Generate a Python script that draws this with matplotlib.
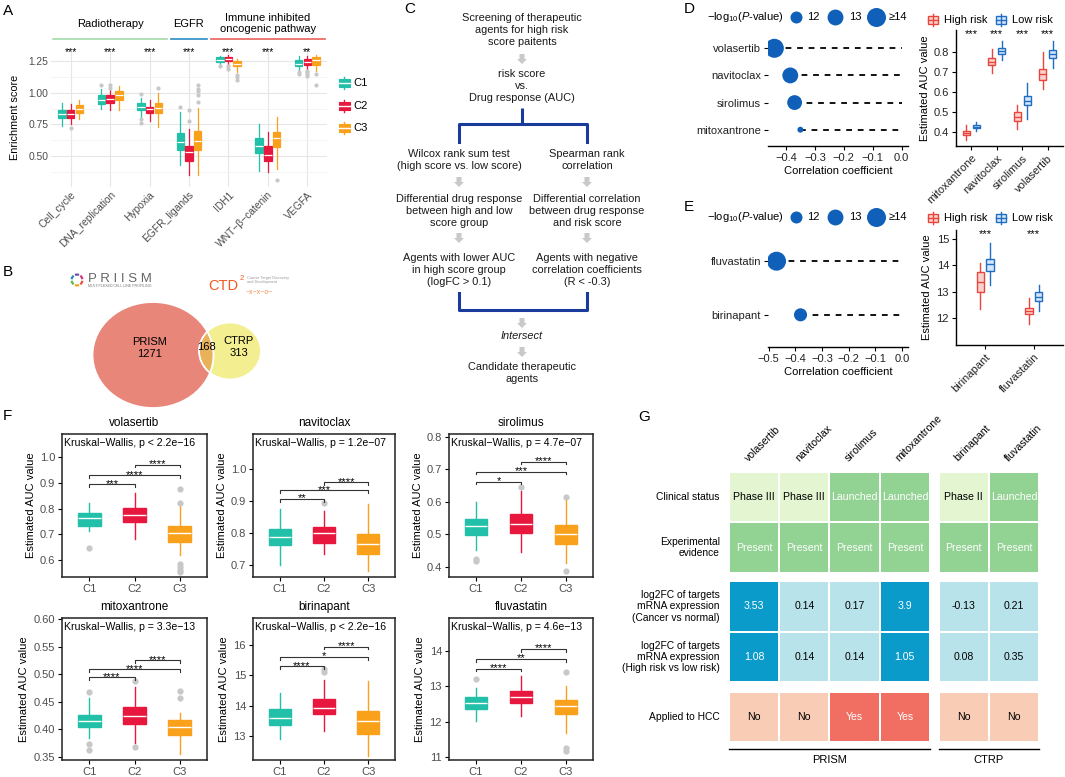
import numpy as np
import matplotlib
matplotlib.use('Agg')
import matplotlib.pyplot as plt
from matplotlib.patches import Rectangle, Ellipse, Polygon, Wedge
from matplotlib.ticker import FormatStrFormatter

plt.rcParams['font.family'] = ['Liberation Sans', 'DejaVu Sans']
plt.rcParams['mathtext.fontset'] = 'custom'
plt.rcParams['mathtext.rm'] = 'Liberation Sans'
plt.rcParams['mathtext.it'] = 'Liberation Sans:italic'

# ---------------------------------------------------------------- data
# A: enrichment score boxes, [whislo, q1, med, q3, whishi] per pathway
pathways = ['Cell_cycle', 'DNA_replication', 'Hypoxia', 'EGFR_ligands',
            'IDH1', 'WNT\u2212\u03b2\u2212catenin', 'VEGFA']
pathway_sig = ['***', '***', '***', '***', '***', '***', '**']
a_c1 = [[0.74, 0.80, 0.83, 0.86, 0.92], [0.87, 0.91, 0.94, 0.98, 1.03],
        [0.80, 0.86, 0.89, 0.92, 0.96], [0.43, 0.55, 0.61, 0.68, 0.85],
        [1.22, 1.24, 1.26, 1.28, 1.29], [0.38, 0.52, 0.58, 0.64, 0.75],
        [1.18, 1.21, 1.23, 1.26, 1.29]]
a_c2 = [[0.75, 0.80, 0.83, 0.86, 0.91], [0.86, 0.92, 0.95, 0.98, 1.02],
        [0.78, 0.84, 0.87, 0.89, 0.94], [0.35, 0.46, 0.53, 0.58, 0.71],
        [1.22, 1.25, 1.27, 1.28, 1.30], [0.37, 0.46, 0.51, 0.58, 0.69],
        [1.17, 1.22, 1.24, 1.27, 1.29]]
a_c3 = [[0.79, 0.84, 0.87, 0.90, 0.94], [0.86, 0.94, 0.98, 1.01, 1.05],
        [0.73, 0.84, 0.88, 0.92, 1.00], [0.35, 0.55, 0.62, 0.70, 0.88],
        [1.16, 1.21, 1.23, 1.25, 1.27], [0.40, 0.57, 0.64, 0.69, 0.81],
        [1.17, 1.22, 1.26, 1.28, 1.30]]
a_c1_out = [[], [1.06], [0.76, 0.79, 0.99], [0.89], [1.21], [], [1.15, 1.16]]
a_c2_out = [[0.72], [1.04, 1.06], [], [0.78, 0.86], [1.19, 1.21], [], [1.13, 1.15, 1.16, 1.17]]
a_c3_out = [[], [], [1.04], [0.93, 0.98, 1.01, 1.03, 1.06], [1.10, 1.12, 1.14], [0.31], [1.06, 1.15]]
a_groups = ['Radiotherapy', 'EGFR', 'Immune inhibited\noncogenic pathway']
a_group_first = [0, 3, 4]
a_group_last = [2, 3, 6]
clusters = ['C1', 'C2', 'C3']

# B: venn counts
venn_prism, venn_both, venn_ctrp = 1271, 168, 313

# D / E: correlation dot plots and risk boxplots
d_drugs = ['volasertib', 'navitoclax', 'sirolimus', 'mitoxantrone']
d_corr = [-0.44, -0.385, -0.37, -0.35]
d_logp = [14.0, 13.0, 12.7, 11.0]
d_box_drugs = ['mitoxantrone', 'navitoclax', 'sirolimus', 'volasertib']
d_high = [[0.36, 0.385, 0.395, 0.405, 0.435], [0.695, 0.735, 0.752, 0.77, 0.815],
          [0.415, 0.455, 0.475, 0.50, 0.535], [0.615, 0.66, 0.69, 0.715, 0.80]]
d_low = [[0.405, 0.418, 0.425, 0.435, 0.45], [0.76, 0.79, 0.805, 0.82, 0.855],
         [0.465, 0.535, 0.555, 0.58, 0.645], [0.72, 0.77, 0.79, 0.81, 0.855]]

e_drugs = ['fluvastatin', 'birinapant']
e_corr = [-0.47, -0.38]
e_logp = [14.0, 12.25]
e_box_drugs = ['birinapant', 'fluvastatin']
e_high = [[12.35, 13.0, 13.35, 13.75, 14.1], [11.75, 12.15, 12.27, 12.38, 12.75]]
e_low = [[13.25, 13.8, 14.05, 14.25, 14.85], [12.25, 12.65, 12.8, 12.97, 13.25]]

# F: per drug boxes for C1, C2, C3 ([whislo, q1, med, q3, whishi])
f_vol_box = [[0.713, 0.732, 0.762, 0.784, 0.823], [0.68, 0.749, 0.775, 0.801, 0.862],
             [0.62, 0.669, 0.704, 0.732, 0.814]]
f_vol_out = [[0.645], [], [0.877, 0.82, 0.586, 0.573, 0.563, 0.553]]
f_vol_brk = [0.894, 0.93, 0.97]
f_vol_sig = ['***', '****', '****']

f_nav_box = [[0.70, 0.763, 0.787, 0.811, 0.875], [0.733, 0.769, 0.801, 0.819, 0.87],
             [0.68, 0.733, 0.765, 0.798, 0.891]]
f_nav_out = [[], [0.893], []]
f_nav_brk = [0.906, 0.933, 0.958]
f_nav_sig = ['**', '***', '****']

f_sir_box = [[0.453, 0.497, 0.526, 0.547, 0.60], [0.446, 0.505, 0.531, 0.564, 0.634],
             [0.413, 0.472, 0.50, 0.53, 0.605]]
f_sir_out = [[0.425, 0.417], [0.647], [0.614, 0.388]]
f_sir_brk = [0.662, 0.693, 0.724]
f_sir_sig = ['*', '***', '****']

f_mit_box = [[0.384, 0.404, 0.416, 0.426, 0.456], [0.375, 0.41, 0.425, 0.44, 0.477],
             [0.356, 0.389, 0.404, 0.417, 0.43]]
f_mit_out = [[0.467, 0.374, 0.363], [0.487, 0.368], [0.469, 0.456]]
f_mit_brk = [0.494, 0.509, 0.525]
f_mit_sig = ['****', '****', '****']

f_bir_box = [[12.9, 13.35, 13.6, 13.9, 14.42], [13.15, 13.72, 13.93, 14.22, 14.85],
             [12.35, 13.08, 13.5, 13.82, 14.82]]
f_bir_out = [[], [15.1, 15.2], []]
f_bir_brk = [15.3, 15.6, 15.95]
f_bir_sig = ['****', '*', '****']

f_flu_box = [[12.03, 12.35, 12.54, 12.69, 12.95], [12.16, 12.54, 12.71, 12.88, 13.28],
             [11.67, 12.21, 12.44, 12.6, 13.02]]
f_flu_out = [[13.2], [], [13.39, 11.25, 11.16]]
f_flu_brk = [13.5, 13.77, 14.05]
f_flu_sig = ['****', '**', '****']

f_drugs = ['volasertib', 'navitoclax', 'sirolimus', 'mitoxantrone', 'birinapant', 'fluvastatin']
f_pvals = ['p < 2.2e\u221216', 'p = 1.2e\u221207', 'p = 4.7e\u221207',
           'p = 3.3e\u221213', 'p < 2.2e\u221216', 'p = 4.6e\u221213']

# G: summary table
g_drugs = ['volasertib', 'navitoclax', 'sirolimus', 'mitoxantrone', 'birinapant', 'fluvastatin']
g_clinical = ['Phase III', 'Phase III', 'Launched', 'Launched', 'Phase II', 'Launched']
g_evidence = ['Present', 'Present', 'Present', 'Present', 'Present', 'Present']
g_fc_cancer = [3.53, 0.14, 0.17, 3.9, -0.13, 0.21]
g_fc_risk = [1.08, 0.14, 0.14, 1.05, 0.08, 0.35]
g_hcc = ['No', 'No', 'Yes', 'Yes', 'No', 'No']
g_rows = ['Clinical status', 'Experimental\nevidence',
          'log2FC of targets\nmRNA expression\n(Cancer vs normal)',
          'log2FC of targets\nmRNA expression\n(High risk vs low risk)',
          'Applied to HCC']

# ---------------------------------------------------------------- styles
clust_colors = ['#22BFA9', '#E8173E', '#F9A11B']
risk_red, risk_blue = '#E8453C', '#1F6EC4'
dot_blue = '#1060BA'
flier_grey = '#C8C8C8'

W, H = 1065, 777
fig = plt.figure(figsize=(W / 100, H / 100), dpi=100)


def px_axes(x0, y0, x1, y1):
    return fig.add_axes([x0 / W, 1 - y1 / H, (x1 - x0) / W, (y1 - y0) / H])


def draw_boxes(ax, stats5, fliers, positions, color, width, median_color='white',
               face=None, lw=1.0, ms=3.5):
    stats = []
    for s, f in zip(stats5, fliers):
        stats.append(dict(whislo=s[0], q1=s[1], med=s[2], q3=s[3], whishi=s[4], fliers=f))
    ax.bxp(stats, positions=positions, widths=width, patch_artist=True, showcaps=False,
           manage_ticks=False,
           boxprops=dict(facecolor=face or color, edgecolor=color, linewidth=lw),
           medianprops=dict(color=median_color, linewidth=lw),
           whiskerprops=dict(color=color, linewidth=lw),
           flierprops=dict(marker='o', markerfacecolor=flier_grey,
                           markeredgecolor='none', markersize=ms))


def size_pts(v):
    v = min(v, 14.0)
    d = np.sqrt(max(144 + 108.5 * (v - 12), 25))   # diameter in pixels
    return (d * 0.72) ** 2


# ---------------------------------------------------------------- A
axA = px_axes(51, 48, 327, 187)
xs = np.arange(len(pathways))
for k, (st, out) in enumerate(zip([a_c1, a_c2, a_c3], [a_c1_out, a_c2_out, a_c3_out])):
    draw_boxes(axA, st, out, xs + (k - 1) * 0.22, clust_colors[k], 0.19, lw=0.9, ms=3)
axA.set_xlim(-0.5, len(pathways) - 0.5)
axA.set_ylim(0.255, 1.353)
axA.set_yticks([0.5, 0.75, 1.0, 1.25])
axA.yaxis.set_major_formatter(FormatStrFormatter('%.2f'))
axA.set_yticks([0.375, 0.625, 0.875, 1.125], minor=True)
axA.set_xticks(xs)
axA.set_xticklabels(pathways, rotation=45, ha='right', rotation_mode='anchor')
axA.tick_params(length=0, labelsize=7.4, labelcolor='#4D4D4D', pad=2)
axA.tick_params(which='minor', length=0)
axA.grid(True, which='major', color='#E6E6E6', lw=0.8)
axA.grid(True, which='minor', axis='y', color='#F0F0F0', lw=0.5)
axA.set_axisbelow(True)
for s in axA.spines.values():
    s.set_visible(False)
axA.set_ylabel('Enrichment score', fontsize=7.8, labelpad=6)
for x, s in zip(xs, pathway_sig):
    axA.text(x, 1.318, s, ha='center', va='center', fontsize=7.5)
tr = axA.get_xaxis_transform()
for lab, a, b, c in zip(a_groups, a_group_first, a_group_last, ['#A3DCAC', '#2B8CC4', '#E8625A']):
    axA.plot([a - 0.45, b + 0.45], [1.065, 1.065], color=c, lw=1.2, transform=tr, clip_on=False)
    axA.text((a + b) / 2, 1.175, lab, ha='center', va='center', fontsize=8,
             transform=tr, linespacing=1.15)

# ---------------------------------------------------------------- D / E dot plots
def dot_panel(rect, drugs, corr, logp, xlim, xticks):
    ax = px_axes(*rect)
    ys = np.arange(len(drugs))[::-1] + 1
    ax.hlines(ys, corr, 0, colors='black', linestyles=(0, (3.2, 3.2)), lw=1.3, zorder=1)
    ax.scatter(corr, ys, s=[size_pts(v) for v in logp], color=dot_blue, lw=0, zorder=3)
    ax.set_xlim(*xlim)
    ax.set_ylim(0.4, len(drugs) + 0.6)
    ax.set_xticks(xticks)
    ax.set_xticklabels([('%.1f' % t).replace('-', '\u2212') for t in xticks])
    ax.set_yticks(ys)
    ax.set_yticklabels(drugs)
    for side in ['top', 'right', 'left']:
        ax.spines[side].set_visible(False)
    ax.spines['bottom'].set_linewidth(1.0)
    ax.tick_params(labelsize=8, labelcolor='#222222', length=3, width=0.8, pad=2)
    ax.set_xlabel('Correlation coefficient', fontsize=8, labelpad=2)
    return ax


dot_panel((768, 32, 908, 146), d_drugs, d_corr, d_logp, (-0.462, 0.022),
          [-0.4, -0.3, -0.2, -0.1, 0.0])
dot_panel((768, 229, 908, 347), e_drugs, e_corr, e_logp, (-0.502, 0.023),
          [-0.5, -0.4, -0.3, -0.2, -0.1, 0.0])


# ---------------------------------------------------------------- D / E risk boxes
def risk_panel(rect, drugs, high, low, ylim, yticks, fmt, off, width):
    ax = px_axes(*rect)
    xs = np.arange(1, len(drugs) + 1)
    empty = [[] for _ in drugs]
    draw_boxes(ax, high, empty, xs - off, risk_red, width, median_color=risk_red,
               face='#F8D3CE', lw=1.0)
    draw_boxes(ax, low, empty, xs + off, risk_blue, width, median_color=risk_blue,
               face='#D7E6F7', lw=1.0)
    ax.set_xlim(0.4, len(drugs) + 0.6)
    ax.set_ylim(*ylim)
    ax.set_yticks(yticks)
    ax.yaxis.set_major_formatter(FormatStrFormatter(fmt))
    ax.set_xticks(xs)
    ax.set_xticklabels(drugs, rotation=45, ha='right', rotation_mode='anchor')
    for side in ['top', 'right']:
        ax.spines[side].set_visible(False)
    for side in ['left', 'bottom']:
        ax.spines[side].set_linewidth(1.0)
    ax.tick_params(labelsize=8, labelcolor='#222222', length=3, width=0.8, pad=2)
    ax.set_ylabel('Estimated AUC value', fontsize=8, labelpad=3)
    trx = ax.get_xaxis_transform()
    for x in xs:
        ax.text(x, 0.965, '***', ha='center', va='center', fontsize=8, transform=trx)
    return ax


risk_panel((956, 30, 1063, 146), d_box_drugs, d_high, d_low, (0.33, 0.91),
           [0.4, 0.5, 0.6, 0.7, 0.8], '%.1f', 0.2, 0.28)
risk_panel((956, 230, 1063, 345), e_box_drugs, e_high, e_low, (10.97, 15.34),
           [12, 13, 14, 15], '%d', 0.1, 0.15)

# ---------------------------------------------------------------- F
f_boxes = [f_vol_box, f_nav_box, f_sir_box, f_mit_box, f_bir_box, f_flu_box]
f_outs = [f_vol_out, f_nav_out, f_sir_out, f_mit_out, f_bir_out, f_flu_out]
f_brks = [f_vol_brk, f_nav_brk, f_sir_brk, f_mit_brk, f_bir_brk, f_flu_brk]
f_sigs = [f_vol_sig, f_nav_sig, f_sir_sig, f_mit_sig, f_bir_sig, f_flu_sig]
f_ylims = [(0.534, 1.09), (0.6625, 1.109), (0.369, 0.809),
           (0.3445, 0.6018), (12.21, 16.89), (10.915, 14.93)]
f_yticks = [[0.6, 0.7, 0.8, 0.9, 1.0], [0.7, 0.8, 0.9, 1.0], [0.4, 0.5, 0.6, 0.7, 0.8],
            [0.35, 0.40, 0.45, 0.50, 0.55, 0.60], [13, 14, 15, 16], [11, 12, 13, 14]]
f_fmts = ['%.1f', '%.1f', '%.1f', '%.2f', '%d', '%d']
f_cols = [(62, 207), (253, 395), (449, 593)]
f_rows = [(434, 577), (618, 760)]

for i, drug in enumerate(f_drugs):
    (x0, x1), (y0, y1) = f_cols[i % 3], f_rows[i // 3]
    ax = px_axes(x0, y0, x1, y1)
    xs = np.arange(1, 4)
    for k in range(3):
        draw_boxes(ax, [f_boxes[i][k]], [f_outs[i][k]], [xs[k]], clust_colors[k], 0.5,
                   lw=1.0, ms=4.5)
    lo, hi = f_ylims[i]
    tick = 0.018 * (hi - lo)
    for (a, b), yb, s in zip([(1, 2), (1, 3), (2, 3)], f_brks[i], f_sigs[i]):
        ax.plot([a, a, b, b], [yb - tick, yb, yb, yb - tick], color='#333333', lw=0.8)
        ax.text((a + b) / 2, yb + 0.004 * (hi - lo), s, ha='center', va='center', fontsize=8)
    ax.set_xlim(0.4, 3.6)
    ax.set_ylim(lo, hi)
    ax.set_yticks(f_yticks[i])
    ax.yaxis.set_major_formatter(FormatStrFormatter(f_fmts[i]))
    ax.set_xticks(xs)
    ax.set_xticklabels(clusters)
    ax.tick_params(labelsize=8, labelcolor='#4D4D4D', length=3, width=0.8, pad=2)
    for s in ax.spines.values():
        s.set_linewidth(1.1)
        s.set_color('#222222')
    ax.set_ylabel('Estimated AUC value', fontsize=8, labelpad=3)
    ax.text(0.015, 0.975, 'Kruskal\u2212Wallis, ' + f_pvals[i], transform=ax.transAxes,
            ha='left', va='top', fontsize=7.6)
    ax.text(0.5, 1 + 11 / (y1 - y0), drug, transform=ax.transAxes, ha='center',
            va='center', fontsize=8.5)

# ---------------------------------------------------------------- G
axG = px_axes(729, 472, 1039, 742)
g_colx = [0, 1, 2, 3, 4.17, 5.17]
g_rowy = [0, 1, 2.17, 3.17, 4.36]
light_green, green = '#E4F5D2', '#92D292'
dark_cyan, light_cyan = '#0B9BCB', '#B9E3EA'
no_col, yes_col = '#F9CCB6', '#F06E62'
for j, drug in enumerate(g_drugs):
    cells = [
        (g_clinical[j], light_green if g_clinical[j].startswith('Phase') else green,
         'black' if g_clinical[j].startswith('Phase') else 'white'),
        (g_evidence[j], green, 'white'),
        (str(g_fc_cancer[j]), dark_cyan if g_fc_cancer[j] > 1 else light_cyan,
         'white' if g_fc_cancer[j] > 1 else 'black'),
        (str(g_fc_risk[j]), dark_cyan if g_fc_risk[j] > 1 else light_cyan,
         'white' if g_fc_risk[j] > 1 else 'black'),
        (g_hcc[j], yes_col if g_hcc[j] == 'Yes' else no_col,
         'white' if g_hcc[j] == 'Yes' else 'black'),
    ]
    x = g_colx[j]
    for (txt, fc, tc), y in zip(cells, g_rowy):
        axG.add_patch(Rectangle((x + 0.02, y + 0.02), 0.96, 0.96, fc=fc, ec='none'))
        axG.text(x + 0.5, y + 0.5, txt, ha='center', va='center', fontsize=7.6, color=tc)
    axG.text(x + 0.42, -0.17, drug, rotation=45, ha='left', va='bottom',
             rotation_mode='anchor', fontsize=7.6)
for lab, y in zip(g_rows, g_rowy):
    axG.text(-0.18, y + 0.5, lab, ha='right', va='center', fontsize=7.4, linespacing=1.15)
axG.plot([0, 4], [5.5, 5.5], color='black', lw=1.0, clip_on=False)
axG.plot([4.17, 6.17], [5.5, 5.5], color='black', lw=1.0, clip_on=False)
axG.text(2, 5.72, 'PRISM', ha='center', va='center', fontsize=8)
axG.text(5.17, 5.72, 'CTRP', ha='center', va='center', fontsize=8)
axG.set_xlim(0, 6.17)
axG.set_ylim(5.36, 0)
axG.axis('off')

# ---------------------------------------------------------------- overlay (labels, legends, B, C)
ov = fig.add_axes([0, 0, 1, 1])
ov.set_xlim(0, W)
ov.set_ylim(H, 0)
ov.axis('off')

for lab, x, y in [('A', 3, 11), ('B', 3, 272), ('C', 404, 9), ('D', 684, 9),
                  ('E', 684, 207), ('F', 3, 416), ('G', 638, 417)]:
    ov.text(x, y, lab, fontsize=11, ha='left', va='center')

# A legend
for k, (lab, y) in enumerate(zip(clusters, [83, 106, 128])):
    c = clust_colors[k]
    ov.plot([344, 344], [y - 6, y + 6], color=c, lw=1)
    ov.add_patch(Rectangle((338.5, y - 4), 11, 8, fc=c, ec=c, lw=0.8))
    ov.plot([338.5, 349.5], [y, y], color='white', lw=1)
    ov.text(353, y, lab, fontsize=8, va='center', ha='left')

# B venn
big = Ellipse((153, 355), 121, 106, fc='#E8867A', ec='none')
small = Ellipse((230, 351), 62, 57, fc='#F3EE8F', ec='none')
ov.add_patch(big)
ov.add_patch(small)
lens = Ellipse((230, 351), 62, 57, fc='#E8B25A', ec='none')
ov.add_patch(lens)
lens.set_clip_path(big)
ov.add_patch(Ellipse((153, 355), 121, 106, fc='none', ec='white', lw=1.3))
ov.add_patch(Ellipse((230, 351), 62, 57, fc='none', ec='white', lw=1.3))
ov.text(150, 348, 'PRISM\n%d' % venn_prism, ha='center', va='center', fontsize=8, linespacing=1.2)
ov.text(206, 347, '%d' % venn_both, ha='center', va='center', fontsize=8)
ov.text(239, 347, 'CTRP\n%d' % venn_ctrp, ha='center', va='center', fontsize=8, linespacing=1.2)
# logos (approximate)
for i, c in enumerate(['#E94E3C', '#F6A01A', '#59B947', '#1E88C8', '#6C4BA0', '#D6337E']):
    ov.add_patch(Wedge((77, 280), 6.5, 60 * i + 8, 60 * i + 52, width=2.2, fc=c, ec='none'))
ov.text(88, 279, 'P R I I S M', fontsize=9.5, color='#666666', ha='left', va='center')
ov.text(88, 286, 'MULTIPLEXED CELL LINE PROFILING', fontsize=2.6, color='#777777',
        ha='left', va='center')
ov.text(208, 286, 'CTD', fontsize=10.5, color='#F05A22', ha='left', va='center')
ov.text(239.5, 279, '2', fontsize=5.5, color='#F05A22', ha='left', va='center')
ov.text(247, 280, 'Cancer Target Discovery\nand Development', fontsize=2.8, color='#999999',
        ha='left', va='center', linespacing=1.1)
ov.text(246, 293, '~x~x~o~', fontsize=5, color='#F58B55', ha='left', va='center')

# C flowchart
fc_kw = dict(ha='center', va='center', fontsize=7.9, linespacing=1.22, color='#1A1A1A')
blue = '#1B3B9C'


def grey_arrow(x, y):
    pts = [(x - 2.5, y), (x + 2.5, y), (x + 2.5, y + 5), (x + 5, y + 5), (x, y + 10),
           (x - 5, y + 5), (x - 2.5, y + 5)]
    ov.add_patch(Polygon(pts, closed=True, fc='#C9C9C9', ec='none'))


cx, lx, rx = 522, 459, 587
ov.text(cx, 30, 'Screening of therapeutic\nagents for high risk\nscore paitents', **fc_kw)
grey_arrow(cx, 54)
ov.text(cx, 86, 'risk score\nvs.\nDrug response (AUC)', **fc_kw)
ov.plot([cx, cx], [108, 124], color=blue, lw=2.2, solid_capstyle='butt')
ov.plot([lx, lx, rx, rx], [142, 124, 124, 142], color=blue, lw=2.2)
ov.text(lx, 160, 'Wilcox rank sum test\n(high score vs. low score)', **fc_kw)
ov.text(rx, 160, 'Spearman rank\ncorrelation', **fc_kw)
grey_arrow(lx, 177)
grey_arrow(rx, 177)
ov.text(lx, 211, 'Differential drug response\nbetween high and low\nscore group', **fc_kw)
ov.text(rx, 211, 'Differential correlation\nbetween drug response\nand risk score', **fc_kw)
grey_arrow(lx, 233)
grey_arrow(rx, 233)
ov.text(lx, 270, 'Agents with lower AUC\nin high score group\n(logFC > 0.1)', **fc_kw)
ov.text(rx, 270, 'Agents with negative\ncorrelation coefficients\n(R < -0.3)', **fc_kw)
ov.plot([lx, lx, rx, rx], [293, 310, 310, 293], color=blue, lw=2.2)
grey_arrow(cx, 318)
ov.text(cx, 336, 'Intersect', style='italic', **fc_kw)
grey_arrow(cx, 347)
ov.text(cx, 373, 'Candidate therapeutic\nagents', **fc_kw)

# D / E legends
for yl in [17, 217]:
    ov.text(707, yl, '\u2212log$_{10}$($\\it{P}$-value)', fontsize=8, ha='left', va='center')
    for xd, v, xt, t in [(796, 12, 807, '12'), (835, 13, 849, '13'), (876, 14, 889, '\u226514')]:
        ov.scatter([xd], [yl], s=size_pts(v), color=dot_blue, lw=0)
        ov.text(xt, yl, t, fontsize=8, ha='left', va='center')
for yl in [20, 218]:
    for x0, c, fcol, lab in [(928, risk_red, '#F8D3CE', 'High risk'),
                             (996, risk_blue, '#D7E6F7', 'Low risk')]:
        ov.plot([x0 + 5, x0 + 5], [yl - 6, yl + 6], color=c, lw=1)
        ov.add_patch(Rectangle((x0, yl - 4), 10, 8, fc=fcol, ec=c, lw=1))
        ov.plot([x0, x0 + 10], [yl, yl], color=c, lw=1)
        ov.text(x0 + 16, yl, lab, fontsize=8, ha='left', va='center')

fig.savefig('out.png', dpi=100)
